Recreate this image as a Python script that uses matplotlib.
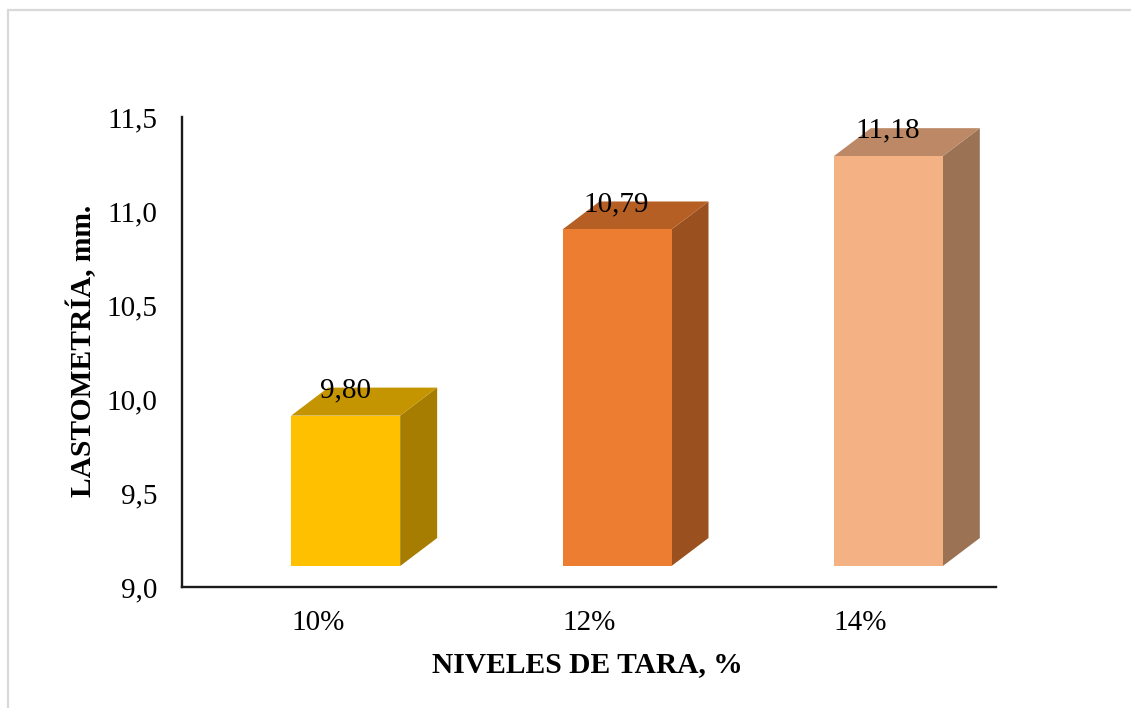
import matplotlib
matplotlib.use("Agg")
import matplotlib.pyplot as plt
from matplotlib.patches import Polygon, Rectangle

categories = ["10%", "12%", "14%"]
values = [9.80, 10.79, 11.18]
value_labels = ["9,80", "10,79", "11,18"]
front_colors = ["#FFC000", "#ED7D31", "#F4B183"]
top_colors = ["#C49500", "#B65F24", "#BC8865"]
side_colors = ["#A67D00", "#9A511F", "#9B7354"]
y_ticks = [9.0, 9.5, 10.0, 10.5, 11.0, 11.5]
y_tick_labels = ["9,0", "9,5", "10,0", "10,5", "11,0", "11,5"]

W, H = 1131, 708
DPI = 100
FS = 21
FS_BOLD = 21.25
plt.rcParams["font.family"] = ["Liberation Serif", "DejaVu Serif"]

fig = plt.figure(figsize=(W / DPI, H / DPI), dpi=DPI, facecolor="white")
fig.add_artist(Rectangle((8.0 / W, -0.1), 1.2, 1.1 - 10.5 / H, transform=fig.transFigure,
                         facecolor="none", edgecolor="#D9D9D9", linewidth=1.6))

AX_W, AX_H = 814, 470
ax = fig.add_axes([182 / W, 1 - 587 / H, AX_W / W, AX_H / H])
ax.set_xlim(-0.5, 2.5)
ax.set_ylim(9.0, 11.5)
ax.patch.set_alpha(0)
for s in ("top", "right"):
    ax.spines[s].set_visible(False)
for s in ("left", "bottom"):
    ax.spines[s].set_linewidth(1.7)
    ax.spines[s].set_color("#1a1a1a")

ax.set_xticks(range(3), categories)
ax.set_yticks(y_ticks, y_tick_labels)
ax.tick_params(axis="both", length=0, labelsize=FS, colors="black")
ax.tick_params(axis="y", pad=17.5)
ax.tick_params(axis="x", pad=16.3)
for lab in ax.get_yticklabels():
    lab.set_verticalalignment("center_baseline")

# pixel sizes of the 3-D look, turned into data units
ux = 3 / AX_W      # data units per pixel, x
uy = 2.5 / AX_H    # data units per pixel, y
shift_x, shift_y = 28 * ux, 21 * uy
depth_x, depth_y = 37 * ux, 28 * uy
width = 109 * ux
base = y_ticks[0]

for i, v in enumerate(values):
    l = i + shift_x - width / 2
    r = i + shift_x + width / 2
    b = base + shift_y
    t = v + shift_y
    ax.add_patch(Polygon([(r, b), (r, t), (r + depth_x, t + depth_y), (r + depth_x, b + depth_y)],
                         closed=True, facecolor=side_colors[i], edgecolor="none",
                         zorder=2, clip_on=False))
    ax.add_patch(Polygon([(l, t), (r, t), (r + depth_x, t + depth_y), (l + depth_x, t + depth_y)],
                         closed=True, facecolor=top_colors[i], edgecolor="none",
                         zorder=2, clip_on=False))
    ax.bar(i + shift_x, v - base, bottom=b, width=width, color=front_colors[i],
           linewidth=0, zorder=3, clip_on=False)
    ax.annotate(value_labels[i], xy=(i + shift_x, t), xycoords="data",
                xytext=(-0.5 * 0.72, 28.5 * 0.72), textcoords="offset points",
                ha="center", va="center_baseline", fontsize=FS, color="black", zorder=6,
                annotation_clip=False)

ax.set_ylabel("LASTOMETRÍA, mm.", fontsize=FS_BOLD, fontweight="bold", labelpad=0)
ax.yaxis.set_label_coords(-100 / AX_W, (587 - 351) / AX_H)
ax.set_xlabel("NIVELES DE TARA, %", fontsize=FS_BOLD, fontweight="bold")
ax.xaxis.set_label_coords((587 - 182) / AX_W, -(665 - 587) / AX_H)
ax.xaxis.label.set_verticalalignment("center")
ax.yaxis.label.set_verticalalignment("center")

fig.savefig("out.png", dpi=DPI, facecolor="white")
